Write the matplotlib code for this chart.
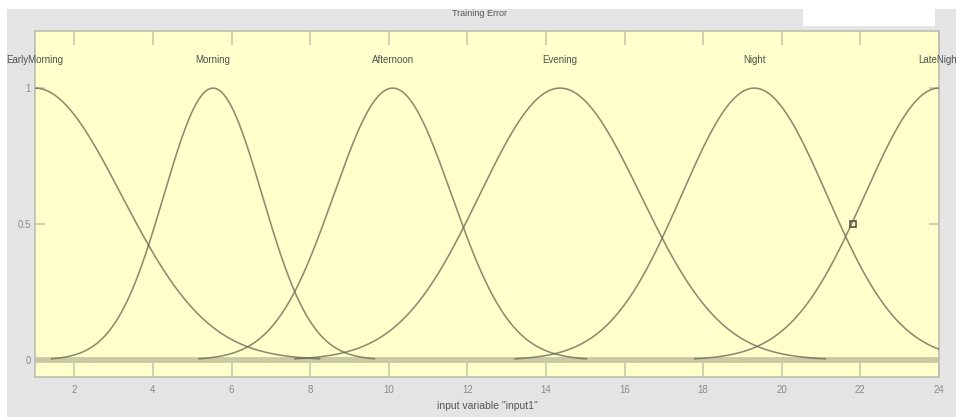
import numpy as np
import matplotlib
matplotlib.use("Agg")
import matplotlib.pyplot as plt
from matplotlib.patches import Rectangle

# ---- data ----
mf_names = ["EarlyMorning", "Morning", "Afternoon", "Evening", "Night", "LateNight"]
mf_centers = [1.0, 5.53, 10.1, 14.36, 19.3, 24.0]
mf_sigmas = [2.2, 1.25, 1.5, 2.05, 1.85, 1.89]
x_ticks = [2, 4, 6, 8, 10, 12, 14, 16, 18, 20, 22, 24]
y_ticks = [0, 0.5, 1]
marker_x = [21.81]
marker_y = [0.5]
title_text = "Training Error"
xlabel_text = 'input variable "input1"'

W, H = 956, 417
fig = plt.figure(figsize=(W / 100, H / 100), dpi=100, facecolor="white")
plt.rcParams["font.family"] = ["Liberation Sans", "DejaVu Sans"]

# background panels
fig.patches.append(Rectangle((7 / W, 0), 1 - 7 / W, (H - 9) / H, transform=fig.transFigure,
                             facecolor="#e4e4e4", edgecolor="none", zorder=-10))
fig.patches.append(Rectangle((803 / W, (H - 26) / H), (935 - 803) / W, 26 / H, transform=fig.transFigure,
                             facecolor="white", edgecolor="none", zorder=-9))

ax = fig.add_axes([35 / W, (H - 377) / H, (939 - 35) / W, (377 - 31) / H])
ax.set_facecolor("#ffffcc")
ax.set_xlim(1, 24)
ax.set_ylim(-0.0625, 1.21)

# zero baseline band
ax.axhline(0, color="#c9c9a3", lw=4.2, zorder=1)

span = 3.3
for name, c, s in zip(mf_names, mf_centers, mf_sigmas):
    lo = max(1, c - span * s)
    hi = min(24, c + span * s)
    xs = np.linspace(lo, hi, 600)
    ys = np.exp(-((xs - c) ** 2) / (2 * s ** 2))
    ax.plot(xs, ys, color="#6e6e58", lw=1.15, alpha=0.8, zorder=3, solid_capstyle="butt")
    ax.text(c, 1.103, name, ha="center", va="center", fontsize=7, color="#505050",
            clip_on=False, zorder=5)

ax.plot(marker_x, marker_y, marker="s", ms=5, mfc="none", mec="#555544", mew=1.2,
        ls="none", zorder=4)

ax.set_xticks(x_ticks)
ax.set_xticklabels([str(t) for t in x_ticks])
ax.set_yticks(y_ticks)
ax.set_yticklabels(["0", "0.5", "1"])
ax.tick_params(axis="x", direction="in", length=10, width=1.2, color="#c8c8aa",
               top=True, bottom=True, labelsize=7, labelcolor="#8a8a8a", pad=6)
ax.tick_params(axis="y", direction="in", length=7, width=1.2, color="#c8c8aa",
               left=True, right=True, labelsize=7, labelcolor="#8a8a8a", pad=3)
for sp in ax.spines.values():
    sp.set_color("#bdbdb0")
    sp.set_linewidth(1.2)

ax.set_xlabel(xlabel_text, fontsize=7.5, color="#555555", labelpad=4)
fig.text(480 / W, (H - 14) / H, title_text, ha="center", va="center", fontsize=6.5, color="#555555")

fig.savefig("out.png", dpi=100, facecolor=fig.get_facecolor())
